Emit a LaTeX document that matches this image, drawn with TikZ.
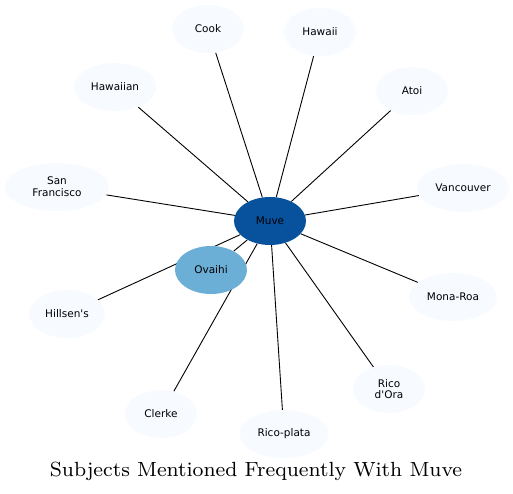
\documentclass[tikz,border=0pt]{standalone}
\usepackage{fontspec}
\usetikzlibrary{shapes.geometric,backgrounds}
\newfontfamily\nodefont[Ligatures=TeXOff]{DejaVu Sans}
\newfontfamily\titlefont{lmroman8-regular.otf}
\definecolor{MuveColor}{HTML}{08519C}
\definecolor{OvaihiColor}{HTML}{6BAED6}
\definecolor{SubjectColor}{HTML}{F7FBFF}
\tikzstyle{subject-base}=[ellipse,
                          draw=none,
                          align=center,
                          font=\nodefont\fontsize{10.5}{11.7}\selectfont,
                          inner xsep=5pt,
                          inner ysep=2pt,
                          minimum width=72pt,
                          minimum height=48pt,
                         ]
\tikzstyle{subject}=[subject-base, fill={SubjectColor}]
\tikzstyle{main-subject}=[subject-base, fill={MuveColor}]
\tikzstyle{near-subject}=[subject-base, fill={OvaihiColor}]

\begin{document}
\begin{tikzpicture}[x=1pt, y=-1pt]
\useasboundingbox (0,0) rectangle (513,494);
\node at (270, 221) (muve)          [main-subject]  {Muve};
\node at (211, 270) (ovaihi)        [near-subject]  {Ovaihi};
\node at (208,  29) (cook)          [subject]       {Cook};
\node at (320,  32) (hawaii)        [subject]       {Hawaii};
\node at (115,  87) (hawaiian)      [subject]       {Hawaiian};
\node at (412,  91) (atoi)          [subject]       {Atoi};
\node at ( 57, 187) (san_francisco) [subject, minimum width=104pt] {San\\Francisco};
\node at (463, 188) (vancouver)     [subject]       {Vancouver};
\node at ( 67, 314) (hillsens)      [subject]       {Hillsen's};
\node at (453, 297) (mona_roa)      [subject]       {Mona-Roa};
\node at (389, 389) (rico_dora)     [subject]       {Rico\\d'Ora};
\node at (161, 414) (clerke)        [subject]       {Clerke};
\node at (284, 434) (rico_plata)    [subject]       {Rico-plata};

\node at (256, 471) (title) [font=\titlefont\fontsize{20.5}{24}\selectfont] {Subjects Mentioned Frequently With Muve};

\begin{scope}[on background layer]
\draw[line width=0.9pt] (muve) -- (cook);
\draw[line width=0.9pt] (muve) -- (hawaii);
\draw[line width=0.9pt] (muve) -- (hawaiian);
\draw[line width=0.9pt] (muve) -- (atoi);
\draw[line width=0.9pt] (muve) -- (san_francisco);
\draw[line width=0.9pt] (muve) -- (vancouver);
\draw[line width=0.9pt] (muve) -- (ovaihi);
\draw[line width=0.9pt] (muve) -- (hillsens);
\draw[line width=0.9pt] (muve) -- (mona_roa);
\draw[line width=0.9pt] (muve) -- (rico_dora);
\draw[line width=0.9pt] (muve) -- (clerke);
\draw[line width=0.9pt] (muve) -- (rico_plata);
\end{scope}
\end{tikzpicture}
\end{document}
